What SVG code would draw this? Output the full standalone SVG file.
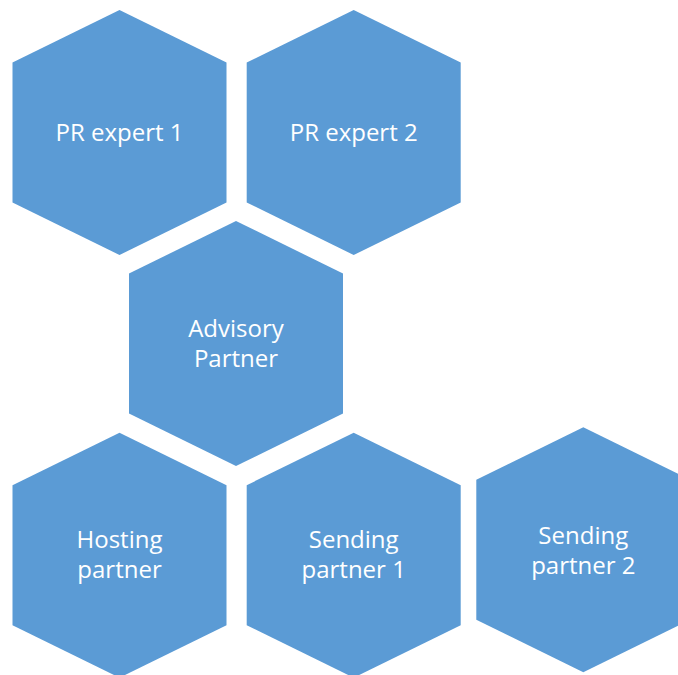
<svg xmlns="http://www.w3.org/2000/svg" width="678" height="675" viewBox="0 0 678 675">
<style>
.hex{fill:#5B9BD5;}
.lbl{fill:#FFFFFF;font-family:"Open Sans","Liberation Sans",sans-serif;font-size:24px;text-anchor:middle;}
</style>
<defs>
<polygon id="h" points="0,0 107,52.5 107,192.5 0,245 -107,192.5 -107,52.5"/>
</defs>
<rect width="678" height="675" fill="#FFFFFF"/>
<g id="connectors"></g>
<g id="pr-expert-1"><use href="#h" class="hex" x="119.5" y="10"/><text class="lbl" x="119.5" y="141">PR expert 1</text></g>
<g id="pr-expert-2"><use href="#h" class="hex" x="353.7" y="10"/><text class="lbl" x="353.7" y="141">PR expert 2</text></g>
<g id="advisory-partner"><use href="#h" class="hex" x="236" y="221"/><text class="lbl" x="236" y="337">Advisory</text><text class="lbl" x="236" y="367">Partner</text></g>
<g id="hosting-partner"><use href="#h" class="hex" x="119.5" y="432.7"/><text class="lbl" x="119.5" y="548">Hosting</text><text class="lbl" x="119.5" y="578">partner</text></g>
<g id="sending-partner-1"><use href="#h" class="hex" x="353.7" y="432.7"/><text class="lbl" x="353.7" y="548">Sending</text><text class="lbl" x="353.7" y="578">partner 1</text></g>
<g id="sending-partner-2"><use href="#h" class="hex" x="583.3" y="427.3"/><text class="lbl" x="583.3" y="543.5">Sending</text><text class="lbl" x="583.3" y="573.5">partner 2</text></g>
</svg>
